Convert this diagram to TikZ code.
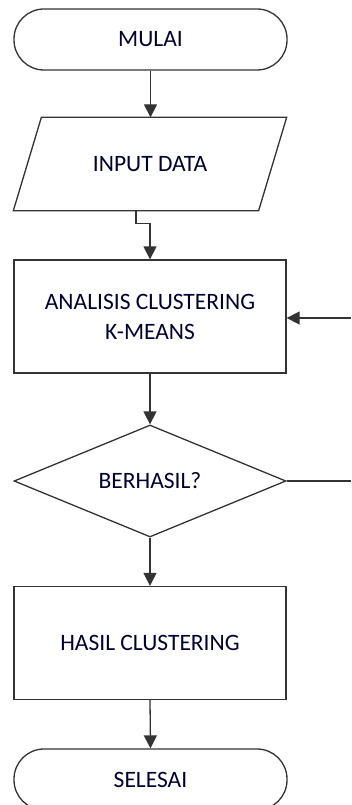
\documentclass[tikz,border=0pt]{standalone}
\usepackage{fontspec}
\setmainfont{Carlito}
\usetikzlibrary{shapes.geometric,arrows.meta}
\tikzset{
  base/.style={draw=black!80, line width=1.3pt, font=\fontsize{23.5}{28}\selectfont, text=black!80!blue, inner sep=0pt, align=center},
  term/.style={base, rectangle, rounded corners=30pt, minimum width=273pt, minimum height=61pt},
  iotext/.style={base, draw=none, rectangle, minimum width=272pt, minimum height=92pt},
  proc/.style={base, rectangle, minimum width=272pt, minimum height=113pt},
  decision/.style={base, diamond, aspect=2.43, minimum width=272pt, minimum height=112pt},
  conn/.style={draw=black!80, line width=1.3pt, -{Triangle[length=13pt,width=13pt]}},
  plain/.style={draw=black!80, line width=1.3pt}
}
\begin{document}
\begin{tikzpicture}[x=1pt,y=-1pt]
\clip (0,0) rectangle (351,805);
\fill[white] (0,0) rectangle (351,805);
\node[term] (mulai) at (150.5,39.5) {MULAI};
\node[iotext] (input) at (150,164) {INPUT DATA};
\coordinate (inTL) at ([xshift=28pt]input.north west);
\coordinate (inBR) at ([xshift=-28pt]input.south east);
\coordinate (inTop) at ([xshift=14pt]input.north);
\coordinate (inBot) at ([xshift=-14pt]input.south);
\draw[plain, line join=miter] (inTL) -- (input.north east) -- (inBR) -- (input.south west) -- cycle;
\node[proc] (analisis) at (150,316.5) {ANALISIS CLUSTERING\\[2pt]K-MEANS};
\node[decision] (berhasil) at (150,481) {BERHASIL?};
\node[proc] (hasil) at (150,643) {HASIL CLUSTERING};
\node[term] (selesai) at (150.5,779.5) {SELESAI};
\coordinate (backin) at (351,318);
\coordinate (backout) at (351,481);
\draw[conn] (mulai.south) -- (mulai.south |- input.north);
\draw[conn] (inBot) -- ++(0,13) -| (analisis.north);
\draw[conn] (analisis.south) -- (berhasil.north);
\draw[conn] (berhasil.south) -- (hasil.north);
\draw[conn] (hasil.south) -- (selesai.north);
\draw[conn] (backin) -- (backin -| analisis.east);
\draw[plain] (berhasil.east) -- (backout);
\end{tikzpicture}
\end{document}
